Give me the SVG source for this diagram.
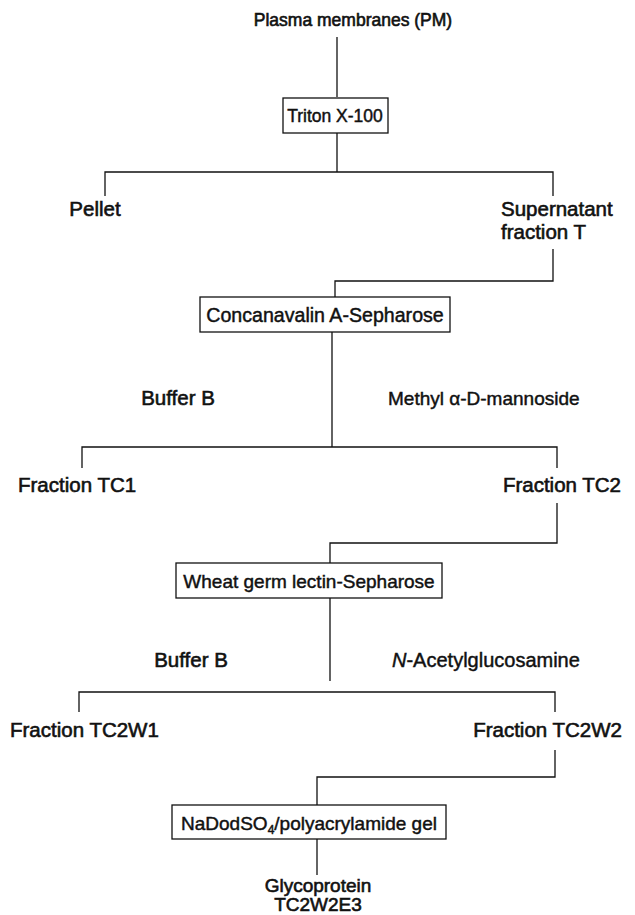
<svg xmlns="http://www.w3.org/2000/svg" width="635" height="915" viewBox="0 0 635 915">
<style>
text{font-family:"Liberation Sans",Arial,sans-serif;font-size:19px;fill:#111;stroke:#111;stroke-width:0.45}
.l{font-size:20.5px;stroke-width:0.6}
.c{text-anchor:middle}
.e{text-anchor:end}
.box{fill:#fff;stroke:#111;stroke-width:1.3}
.ln{fill:none;stroke:#111;stroke-width:1.3}
</style>
<rect width="635" height="915" fill="#fff"/>
<g id="connectors">
<path class="ln" d="M337 37V97"/>
<path class="ln" d="M337 133V172M105 196V172H553V196"/>
<path class="ln" d="M553 249V281H335V297"/>
<path class="ln" d="M332 332V447M82 468V447H557V468"/>
<path class="ln" d="M557 503V543H330V563"/>
<path class="ln" d="M330 598V681M79 712V692H555V712"/>
<path class="ln" d="M555 750V777H317V805"/>
<path class="ln" d="M317 839V875"/>
</g>
<g id="pm"><text class="c" x="353" y="26" style="font-size:17.5px;stroke-width:0.6">Plasma membranes (PM)</text></g>
<g id="triton"><rect class="box" x="283" y="98" width="105" height="35"/><text class="c" x="335" y="122" style="font-size:17.5px">Triton X-100</text></g>
<g id="pellet"><text class="l c" x="95" y="216">Pellet</text></g>
<g id="supernatant"><text class="l" x="501" y="216">Supernatant</text><text class="l" x="501" y="239">fraction T</text></g>
<g id="cona"><rect class="box" x="200" y="297" width="250" height="35"/><text class="c" x="325" y="322" style="font-size:19.6px">Concanavalin A-Sepharose</text></g>
<g id="bufferB1"><text class="l c" x="178" y="405">Buffer B</text></g>
<g id="methyl"><text x="388" y="405">Methyl α-D-mannoside</text></g>
<g id="tc1"><text class="l" x="18" y="492">Fraction TC1</text></g>
<g id="tc2"><text class="l e" x="621" y="492">Fraction TC2</text></g>
<g id="wga"><rect class="box" x="176" y="563" width="266" height="35"/><text class="c" x="309" y="588">Wheat germ lectin-Sepharose</text></g>
<g id="bufferB2"><text class="l c" x="191" y="667">Buffer B</text></g>
<g id="nacetyl"><text x="392" y="667" style="font-size:20px"><tspan font-style="italic">N</tspan>-Acetylglucosamine</text></g>
<g id="tc2w1"><text class="l" x="10" y="737">Fraction TC2W1</text></g>
<g id="tc2w2"><text class="l e" x="622" y="737">Fraction TC2W2</text></g>
<g id="sds"><rect class="box" x="172" y="805" width="274" height="34"/><text class="c" x="309" y="830">NaDodSO<tspan font-size="12" dy="4">4</tspan><tspan dy="-4">/polyacrylamide gel</tspan></text></g>
<g id="glyco"><text class="c" x="318" y="892" style="stroke-width:0.6">Glycoprotein</text><text class="c" x="318" y="911" style="stroke-width:0.6">TC2W2E3</text></g>
</svg>
